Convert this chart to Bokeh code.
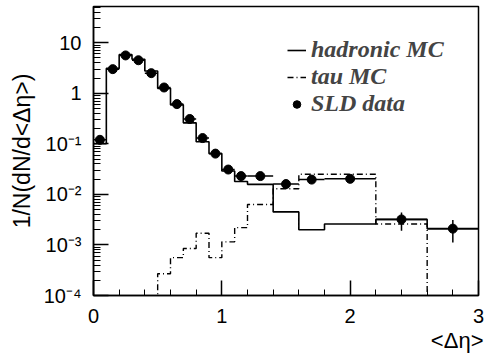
import math
from bokeh.plotting import figure
from bokeh.models import FixedTicker, Legend, LegendItem, Range1d, Title
from bokeh.embed import file_html
from bokeh.resources import INLINE

# ---- data ----
bin_edges = [0.0, 0.1, 0.2, 0.3, 0.4, 0.5, 0.6, 0.7, 0.8, 0.9, 1.0, 1.1, 1.2,
             1.4, 1.6, 1.8, 2.2, 2.6, 3.0]
hadronic_mc = [0.1, 3.1, 5.8, 4.7, 2.75, 1.25, 0.59, 0.26, 0.11, 0.064, 0.029,
               0.018, 0.0158, 0.0045, 0.002, 0.0026, 0.0032, 0.0021]
tau_mc = [0, 0, 0, 0, 0, 2.7e-4, 5.6e-4, 8.5e-4, 1.7e-3, 5.6e-4, 1.15e-3,
          2.2e-3, 6.3e-3, 0.0129, 0.025, 0.025, 0.0026, 0]
sld_data = [0.12, 3.0, 5.6, 4.5, 2.5, 1.3, 0.61, 0.31, 0.13, 0.064, 0.031,
            0.023, 0.023, 0.016, 0.0196, 0.0203, 0.0032, 0.0021]
sld_low = [0.115, 2.9, 5.4, 4.35, 2.4, 1.25, 0.58, 0.295, 0.123, 0.06, 0.029,
           0.021, 0.021, 0.0148, 0.018, 0.0188, 0.0019, 0.00112]
sld_high = [0.125, 3.1, 5.8, 4.65, 2.6, 1.35, 0.64, 0.325, 0.137, 0.068, 0.033,
            0.025, 0.025, 0.0172, 0.0212, 0.0218, 0.0044, 0.0031]

x_ticks = [0, 1, 2, 3]
x_tick_labels = ["0", "1", "2", "3"]
y_ticks = [10, 1, 0.1, 0.01, 0.001, 0.0001]
y_tick_labels = ["10", "1", "10⁻¹", "10⁻²", "10⁻³", "10⁻⁴"]

FLOOR = 1e-7


def step_xy(edges, vals):
    xs, ys = [], []
    for i, v in enumerate(vals):
        v = v if v > 0 else FLOOR
        xs += [edges[i], edges[i + 1]]
        ys += [v, v]
    return xs, ys


centers = [(bin_edges[i] + bin_edges[i + 1]) / 2 for i in range(len(sld_data))]

p = figure(width=486, height=354, output_backend="svg", toolbar_location=None,
           y_axis_type="log", x_range=Range1d(0, 3), y_range=Range1d(1e-4, 52),
           min_border_left=92, min_border_right=8, min_border_top=6,
           min_border_bottom=59)
p.grid.visible = False
p.outline_line_color = "black"
p.outline_line_width = 1.5
p.background_fill_color = "white"
p.border_fill_color = "white"

# histograms
hx, hy = step_xy(bin_edges, hadronic_mc)
h_line = p.line(hx, hy, line_color="black", line_width=1.6)
tx, ty = step_xy(bin_edges, tau_mc)
t_line = p.line(tx, ty, line_color="black", line_width=1.4, line_dash="6 3 1 3")

# data
p.segment(x0=bin_edges[:-1], y0=sld_data, x1=bin_edges[1:], y1=sld_data,
          line_color="black", line_width=1.5)
p.segment(x0=centers, y0=sld_low, x1=centers, y1=sld_high,
          line_color="black", line_width=1.5)
dots = p.scatter(centers, sld_data, size=9, color="black")

# axes
xa = p.xaxis[0]
xa.ticker = FixedTicker(ticks=x_ticks,
                        minor_ticks=[i * 0.2 for i in range(16)])
xa.major_label_overrides = {t: l for t, l in zip(x_ticks, x_tick_labels)}
xa.major_tick_in = 15
xa.major_tick_out = 0
xa.minor_tick_in = 6
xa.minor_tick_out = 0
xa.major_label_standoff = 13
xa.major_label_text_font = "Liberation Sans"
xa.major_label_text_font_size = "20px"
xa.major_label_text_color = "black"
xa.axis_line_width = 1.5
xa.major_tick_line_width = 1.5

minor_y = []
for d in range(-4, 2):
    for m in range(2, 10):
        minor_y.append(m * 10 ** d)
ya = p.yaxis[0]
ya.ticker = FixedTicker(ticks=y_ticks, minor_ticks=minor_y)
ya.major_label_overrides = {t: l for t, l in zip(y_ticks, y_tick_labels)}
ya.major_tick_in = 15
ya.major_tick_out = 0
ya.minor_tick_in = 7
ya.minor_tick_out = 0
ya.major_label_standoff = 12
ya.major_label_text_font = "Liberation Sans"
ya.major_label_text_font_size = "20px"
ya.major_label_text_color = "black"
ya.axis_line_width = 1.5
ya.major_tick_line_width = 1.5

# axis titles
p.add_layout(Title(text="1/N(dN/d<Δη>)", align="center", offset=40,
                   standoff=12, text_font="Liberation Sans",
                   text_font_size="23px", text_font_style="normal",
                   text_color="black"), "left")
p.add_layout(Title(text="<Δη>", align="right", offset=-5, standoff=0,
                   text_font="Liberation Sans", text_font_size="22px",
                   text_font_style="normal", text_color="black"), "below")

legend = Legend(items=[LegendItem(label="hadronic MC", renderers=[h_line]),
                       LegendItem(label="tau MC", renderers=[t_line]),
                       LegendItem(label="SLD data", renderers=[dots])],
                location=(194, 178), padding=0, margin=0, spacing=0,
                glyph_width=19, glyph_height=20, label_standoff=5,
                label_text_font="Liberation Serif",
                label_text_font_style="bold italic",
                label_text_font_size="24px",
                border_line_color=None, background_fill_alpha=0)
p.add_layout(legend)

open("out.html", "w").write(file_html(p, INLINE))
